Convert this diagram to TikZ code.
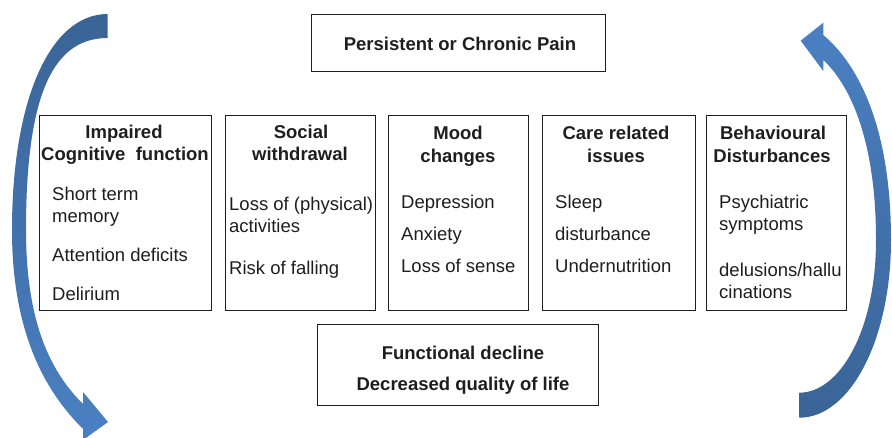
\documentclass[tikz,border=0pt]{standalone}
\usepackage{fontspec}
\setmainfont{Liberation Sans}
\definecolor{arrowdark}{HTML}{3A6496}
\definecolor{arrowlight}{HTML}{4A80C2}
\definecolor{ink}{HTML}{1E1E1E}
\newcommand\boxfont{\fontsize{18.5}{22}\selectfont}
\tikzset{panel/.style={draw=ink, line width=0.9pt, inner sep=0pt, anchor=north west},
head/.style={font=\boxfont\bfseries, text=ink, anchor=base, inner sep=0pt},
item/.style={font=\boxfont, text=ink, anchor=base west, inner sep=0pt}}

\begin{document}
\begin{tikzpicture}[x=1pt, y=-1pt]
\useasboundingbox (0,0) rectangle (892,438);
\clip (0,0) rectangle (892,438);
% Cycle arrows, left one going down, right one going up
\shade[top color=arrowdark, bottom color=arrowlight]
  (107.7,14) .. controls (50,14) and (12,100) .. (12,230)
  .. controls (12,340) and (50,396) .. (83,429)
  -- (83,440) -- (108,422) -- (83,392) -- (83,404)
  .. controls (55,376) and (26,330) .. (26,230)
  .. controls (26,90) and (55,38) .. (107.7,38) -- cycle;
\shade[top color=arrowlight, bottom color=arrowdark]
  (799.3,417.7) .. controls (850,417.7) and (891,340) .. (891,240)
  .. controls (891,130) and (860,66) .. (823.3,35)
  -- (823.3,22.7) -- (800.7,40.7) -- (823.3,71) -- (823.3,60)
  .. controls (850,85) and (876,140) .. (876,240)
  .. controls (876,330) and (840,392.7) .. (799.3,392.7) -- cycle;
% Top and bottom boxes
\node[panel, minimum width=294pt, minimum height=57.5pt] (pain) at (311,14) {};
\node[head] (pain-t) at (460,50.5) {Persistent or Chronic Pain};
\node[panel, minimum width=281pt, minimum height=81pt] (decline) at (317,324) {};
\node[head] (decline-1) at (463,359.5) {Functional decline};
\node[head] (decline-2) at (463,391) {Decreased quality of life};
% Symptom boxes
\node[panel, minimum width=172pt, minimum height=195pt] (cog) at (39,115) {};
\node[head] (cog-h1) at (124,138.5) {Impaired};
\node[head] (cog-h2) at (125,161) {Cognitive\ \ function};
\node[item] (cog-1) at (52,200.5) {Short term};
\node[item] (cog-2) at (52,222.5) {memory};
\node[item] (cog-3) at (52,261.5) {Attention deficits};
\node[item] (cog-4) at (52,300.5) {Delirium};

\node[panel, minimum width=150pt, minimum height=195pt] (soc) at (225,115) {};
\node[head] (soc-h1) at (301,138.5) {Social};
\node[head] (soc-h2) at (300,161) {withdrawal};
\node[item] (soc-1) at (229,211) {Loss of (physical)};
\node[item] (soc-2) at (229,233) {activities};
\node[item] (soc-3) at (229,275) {Risk of falling};

\node[panel, minimum width=140pt, minimum height=195pt] (mood) at (388,115) {};
\node[head] (mood-h1) at (458,140) {Mood};
\node[head] (mood-h2) at (458,162.5) {changes};
\node[item] (mood-1) at (401,208.5) {Depression};
\node[item] (mood-2) at (401,240.5) {Anxiety};
\node[item] (mood-3) at (401,272.5) {Loss of sense};

\node[panel, minimum width=153pt, minimum height=195pt] (care) at (542,115) {};
\node[head] (care-h1) at (616,140) {Care related};
\node[head] (care-h2) at (616,162.5) {issues};
\node[item] (care-1) at (555,208.5) {Sleep};
\node[item] (care-2) at (555,240.5) {disturbance};
\node[item] (care-3) at (555,272.5) {Undernutrition};

\node[panel, minimum width=140pt, minimum height=195pt] (behav) at (706,115) {};
\node[head] (behav-h1) at (773,140) {Behavioural};
\node[head] (behav-h2) at (772,162.5) {Disturbances};
\node[item] (behav-1) at (719,209) {Psychiatric};
\node[item] (behav-2) at (719,231) {symptoms};
\node[item] (behav-3) at (719,277) {delusions/hallu};
\node[item] (behav-4) at (719,299) {cinations};
\end{tikzpicture}
\end{document}
